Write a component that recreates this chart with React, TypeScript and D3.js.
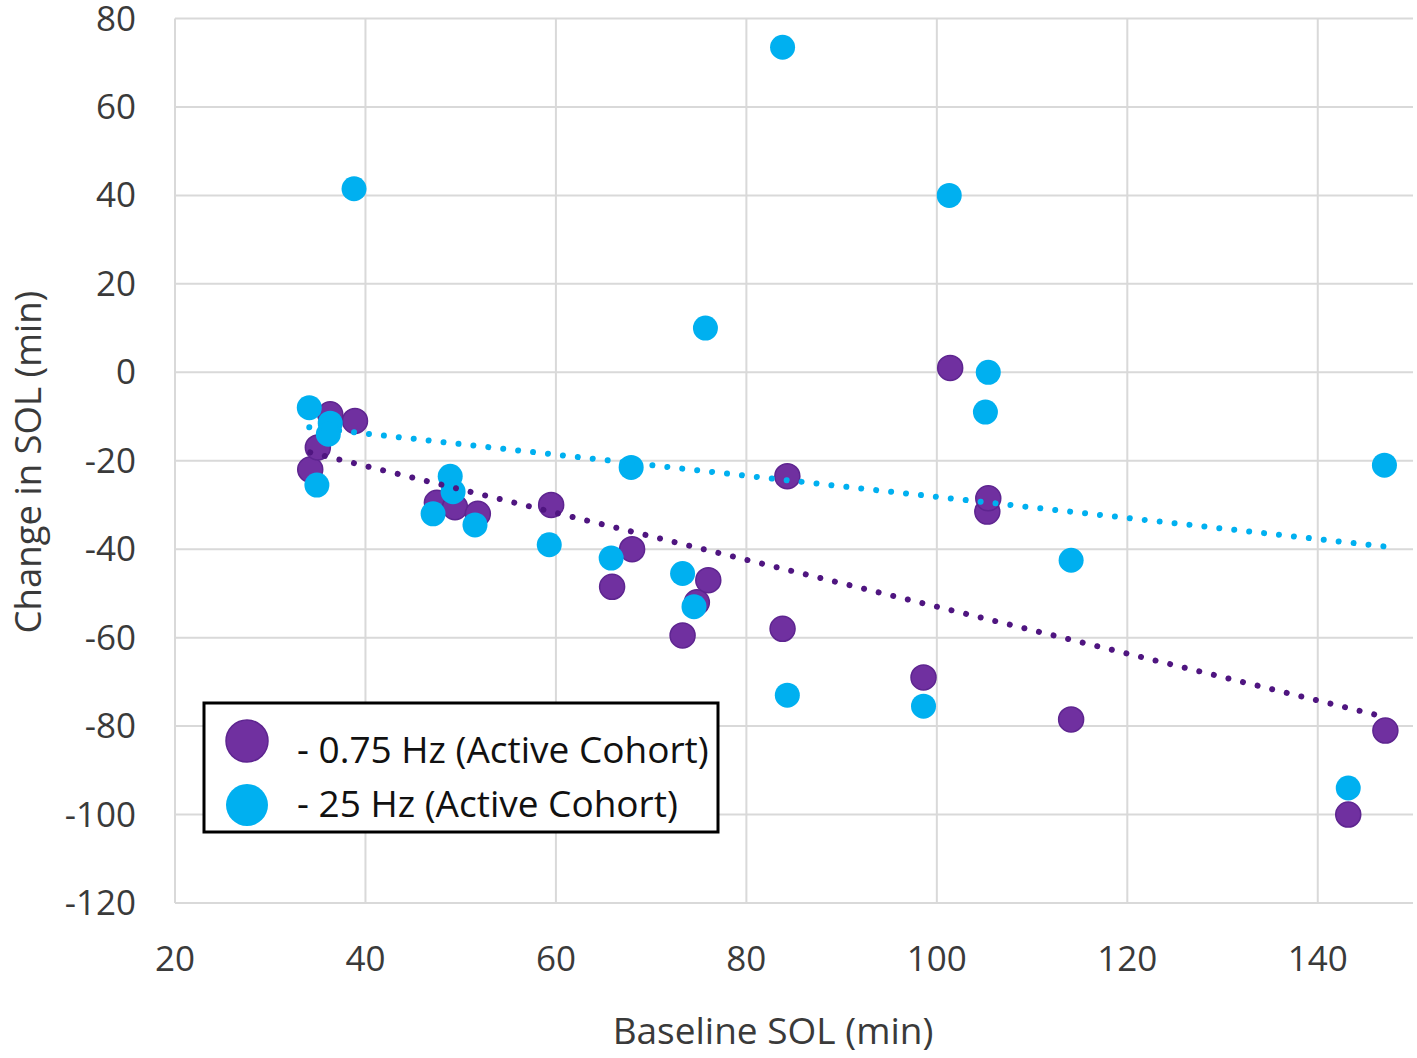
import React from 'react';
import * as d3 from 'd3';

// Baseline SOL (min) and change in SOL (min)
const purpleX = [34.2, 35.0, 36.3, 38.9, 47.5, 49.4, 51.8, 59.5, 65.9, 68.0, 73.3, 74.8, 76.0, 83.8, 84.3, 98.6, 101.4, 105.3, 105.4, 114.1, 143.2, 147.1];
const purpleY = [-22, -17, -9.5, -11, -29.5, -30.5, -32, -30, -48.5, -40, -59.5, -52, -47, -58, -23.5, -69, 1, -31.5, -28.5, -78.5, -100, -81];

const blueX = [34.1, 34.9, 36.3, 36.1, 38.8, 47.1, 48.9, 49.2, 51.5, 59.3, 65.8, 67.9, 73.3, 74.5, 75.7, 83.8, 84.3, 98.6, 101.3, 105.1, 105.4, 114.1, 143.2, 147.0];
const blueY = [-8, -25.5, -11.5, -14, 41.5, -32, -23.5, -27, -34.5, -39, -42, -21.5, -45.5, -53, 10, 73.5, -73, -75.5, 40, -9, 0, -42.5, -94, -21];

const xTicks = [20, 40, 60, 80, 100, 120, 140];
const yTicks = [-120, -100, -80, -60, -40, -20, 0, 20, 40, 60, 80];

const seriesNames = ['- 0.75 Hz (Active Cohort)', '- 25 Hz (Active Cohort)'];

const style = {
  width: 1417,
  height: 1058,
  margin: { top: 18.5, left: 175, bottom: 155, right: 4 },
  font: '"Open Sans", sans-serif',
  textColor: '#3a3a3a',
  gridColor: '#d9d9d9',
  purple: '#7030A0',
  purpleEdge: '#5e2590',
  purpleTrend: '#4f1580',
  blue: '#00B0F0',
  markerR: 12.5,
};

// ordinary least squares, as the spreadsheet's linear trendline
function linearFit(xs: number[], ys: number[]) {
  const mx = d3.mean(xs)!;
  const my = d3.mean(ys)!;
  let sxy = 0, sxx = 0;
  xs.forEach((x, i) => { sxy += (x - mx) * (ys[i] - my); sxx += (x - mx) ** 2; });
  const slope = sxy / sxx;
  const [x0, x1] = d3.extent(xs) as [number, number];
  return [x0, x1].map(x => ({ x, y: my + slope * (x - mx) }));
}

const App: React.FC = () => {
  const { width, height, margin } = style;

  const xScale = d3.scaleLinear()
    .domain([20, 150])
    .range([margin.left, width - margin.right]);

  const yScale = d3.scaleLinear()
    .domain([-120, 80])
    .range([height - margin.bottom, margin.top]);

  const line = d3.line<{ x: number, y: number }>()
    .x(d => xScale(d.x))
    .y(d => yScale(d.y));

  const purpleFit = linearFit(purpleX, purpleY);
  const blueFit = linearFit(blueX, blueY);

  const plotBottom = yScale(-120);
  const plotRight = xScale(150);

  return (
    <svg width={width} height={height} style={{ position: 'absolute', left: 0, top: 0, background: '#fff' }}
      fontFamily={style.font}>
      {/* gridlines */}
      {yTicks.map(t => (
        <line key={'gy' + t} x1={margin.left} x2={plotRight} y1={yScale(t)} y2={yScale(t)}
          stroke={style.gridColor} strokeWidth={2} />
      ))}
      {xTicks.map(t => (
        <line key={'gx' + t} x1={xScale(t)} x2={xScale(t)} y1={margin.top} y2={plotBottom}
          stroke={style.gridColor} strokeWidth={2} />
      ))}

      {/* tick labels */}
      {yTicks.map(t => (
        <text key={'ly' + t} x={136} y={yScale(t) + 12} textAnchor="end" fontSize={35} fill={style.textColor}>{t}</text>
      ))}
      {xTicks.map(t => (
        <text key={'lx' + t} x={xScale(t)} y={971} textAnchor="middle" fontSize={35} fill={style.textColor}>{t}</text>
      ))}

      {/* axis titles */}
      <text x={773} y={1044} textAnchor="middle" fontSize={37} fill={style.textColor}>Baseline SOL (min)</text>
      <text transform={`translate(41, ${462}) rotate(-90)`} textAnchor="middle" fontSize={36.5} fill={style.textColor}>Change in SOL (min)</text>

      {/* markers */}
      {purpleX.map((x, i) => (
        <circle key={'p' + i} cx={xScale(x)} cy={yScale(purpleY[i])} r={style.markerR}
          fill={style.purple} stroke={style.purpleEdge} strokeWidth={1.5} />
      ))}
      {blueX.map((x, i) => (
        <circle key={'b' + i} cx={xScale(x)} cy={yScale(blueY[i])} r={style.markerR} fill={style.blue} />
      ))}

      {/* dotted trendlines */}
      <path d={line(purpleFit)!} fill="none" stroke={style.purpleTrend} strokeWidth={6}
        strokeDasharray="0.01 15" strokeLinecap="round" />
      <path d={line(blueFit)!} fill="none" stroke={style.blue} strokeWidth={6}
        strokeDasharray="0.01 15" strokeLinecap="round" />

      {/* legend */}
      <rect x={204} y={703} width={514} height={129} fill="#fff" stroke="#000" strokeWidth={3} />
      {seriesNames.map((name, i) => (
        <g key={name}>
          <circle cx={247} cy={741 + i * 64} r={21}
            fill={i === 0 ? style.purple : style.blue}
            stroke={i === 0 ? style.purpleEdge : 'none'} strokeWidth={1.5} />
          <text x={297} y={763 + i * 54} fontSize={37} fill="#111">{name}</text>
        </g>
      ))}
    </svg>
  );
};

export default App;
